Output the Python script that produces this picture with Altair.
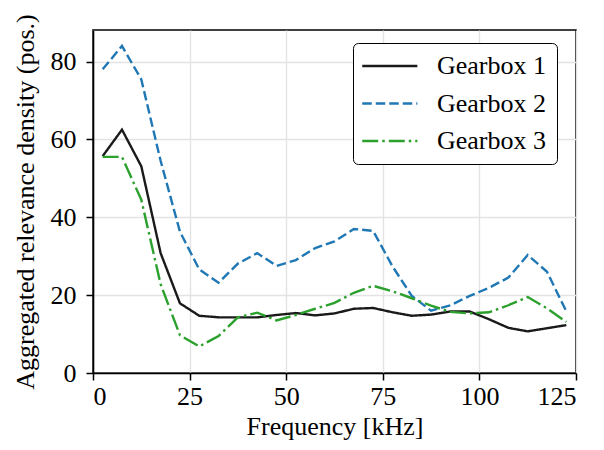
import altair as alt
import pandas as pd

# Frequency bins (kHz), centre of each 5 kHz band
freq = [2.5, 7.5, 12.5, 17.5, 22.5, 27.5, 32.5, 37.5, 42.5, 47.5, 52.5, 57.5, 62.5,
        67.5, 72.5, 77.5, 82.5, 87.5, 92.5, 97.5, 102.5, 107.5, 112.5, 117.5, 122.5]

gearbox1 = [55.7, 62.5, 53.1, 30.8, 17.9, 14.7, 14.3, 14.3, 14.3, 14.9, 15.4, 14.8, 15.3,
            16.5, 16.7, 15.6, 14.7, 15.0, 15.8, 15.8, 13.8, 11.6, 10.7, 11.5, 12.3]
gearbox2 = [78.0, 84.0, 75.4, 54.5, 36.3, 26.6, 23.2, 28.1, 30.8, 27.5, 29.0, 32.1, 33.8,
            37.0, 36.5, 27.4, 19.8, 16.0, 17.4, 19.8, 21.9, 24.5, 30.3, 26.0, 15.8]
gearbox3 = [55.5, 55.5, 44.5, 22.8, 9.7, 6.8, 9.5, 14.3, 15.5, 13.5, 14.9, 16.5, 18.0,
            20.6, 22.4, 21.0, 19.2, 17.3, 15.7, 15.3, 15.6, 17.4, 19.5, 16.6, 13.1]

series_names = ["Gearbox 1", "Gearbox 2", "Gearbox 3"]
series_colors = ["#1a1a1a", "#1f77b4", "#2ca02c"]
series_dashes = [[1, 0], [9.5, 4], [16, 4, 2.5, 4]]

rows = []
for name, vals in zip(series_names, [gearbox1, gearbox2, gearbox3]):
    for f, v in zip(freq, vals):
        rows.append({"freq": f, "value": v, "series": name})
df = pd.DataFrame(rows)

FONT = "Liberation Serif"
FS = 26

chart = alt.Chart(df).mark_line(strokeWidth=2.4, strokeJoin="miter").encode(
    x=alt.X("freq:Q",
            scale=alt.Scale(domain=[0, 125], nice=False, zero=False),
            axis=alt.Axis(title="Frequency [kHz]", values=[0, 25, 50, 75, 100, 125],
                          format="d")),
    y=alt.Y("value:Q",
            scale=alt.Scale(domain=[0, 88.1], nice=False),
            axis=alt.Axis(title="Aggregated relevance density (pos.)",
                          values=[0, 20, 40, 60, 80], format="d")),
    color=alt.Color("series:N",
                    scale=alt.Scale(domain=series_names, range=series_colors),
                    legend=alt.Legend(title=None, orient="none", legendX=260, legendY=13,
                                      symbolType="M-1.47,0H4.42", symbolSize=350,
                                      symbolStrokeWidth=2.4,
                                      labelFont=FONT, labelFontSize=FS,
                                      labelColor="black",
                                      fillColor="white", strokeColor="black",
                                      cornerRadius=5, padding=10,
                                      rowPadding=11.5, labelOffset=48)),
    strokeDash=alt.StrokeDash("series:N",
                              scale=alt.Scale(domain=series_names, range=series_dashes),
                              legend=None),
    detail="series:N",
).properties(
    width=483,
    height=343,
    autosize=alt.AutoSizeParams(type="none"),
    padding={"left": 93, "top": 30, "right": 28, "bottom": 77},
).configure_view(
    stroke="black", strokeWidth=1.6
).configure_axis(
    labelFont=FONT, titleFont=FONT,
    labelFontSize=FS, titleFontSize=FS,
    labelColor="black", titleColor="black",
    titleFontWeight="normal",
    domainColor="black", domainWidth=1.6,
    tickColor="black", tickWidth=1.5, tickSize=7,
    gridColor="#e3e3e3", gridWidth=1.4,
).configure_axisX(
    labelPadding=3, titlePadding=4
).configure_axisY(
    labelPadding=10, titlePadding=12
)

chart.save("out.html", embed_options={"renderer": "svg", "actions": False})
